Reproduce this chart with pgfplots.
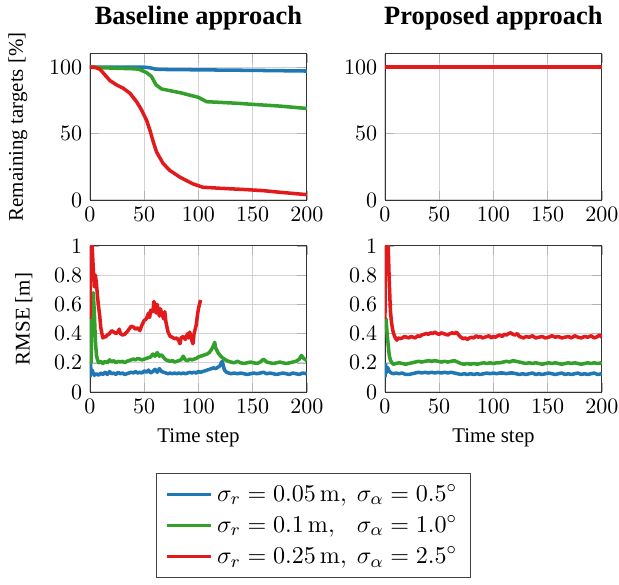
\documentclass[border=0pt]{standalone}
\usepackage[no-math]{fontspec}
\setmainfont{Liberation Serif}
\usepackage{pgfplots}
\pgfplotsset{compat=1.18}
\usepgfplotslibrary{groupplots}
\definecolor{cblue}{RGB}{31,120,180}
\definecolor{cgreen}{RGB}{51,160,44}
\definecolor{cred}{RGB}{227,26,28}
\begin{document}
\begin{tikzpicture}
\begin{groupplot}[
  group style={group size=2 by 2, horizontal sep=35.5pt, vertical sep=20.9pt},
  scale only axis, width=98.6pt, height=66.4pt,
  xmin=0, xmax=200, xtick={0,50,100,150,200},
  grid=major, major grid style={gray!35, line width=0.5pt},
  tick style={gray!60},
  axis line style={black!80},
  every axis plot/.append style={line width=1.6pt, line join=round},
  label style={font=\fontsize{9.5}{11}\selectfont},
  ylabel shift=3pt,
  title style={font=\large\bfseries, yshift=1.5pt},
  legend image code/.code={\draw[#1] (0pt,0pt) -- (20pt,0pt);},
]
% ---------- top left
\nextgroupplot[title={Baseline approach}, ymin=0, ymax=110, ytick={0,50,100}, ylabel={Remaining targets [\%]}]
\addplot[cblue] coordinates {(0,100)(50,100)(55,99.6)(60,98.6)(65,98.3)(100,98.0)(150,97.6)(200,97.1)};
\addplot[cgreen] coordinates {(0,100)(20,99.3)(40,98.8)(45,98.5)(52,96)(56.7,93)(61,86.6)(66,83.6)(83,80.8)(100,77.3)(107.5,74)(120,73.5)(138,72.7)(150,72)(175,70.7)(200,68.9)};
\addplot[cred] coordinates {(0,100)(4,100)(9.2,98.5)(13.8,94.2)(18.4,89.9)(24.6,86.6)(30.7,84.1)(36.9,80.3)(43,74)(47.6,67.7)(52.2,60)(55.3,52.5)(58.4,43.7)(61.4,36.1)(67.6,27.3)(73.7,22.2)(82.9,17.2)(89,14.6)(95,12.1)(104,9.6)(120,8.8)(144,7.8)(160,7)(175,5.8)(200,4)};
% ---------- top right
\nextgroupplot[title={Proposed approach}, ymin=0, ymax=110, ytick={0,50,100}]
\addplot[cblue] coordinates {(0,100)(200,100)};
\addplot[cgreen] coordinates {(0,100)(200,100)};
\addplot[cred] coordinates {(0,100)(200,100)};
% ---------- bottom left
\nextgroupplot[ymin=0, ymax=1, ytick={0,0.2,0.4,0.6,0.8,1}, ylabel={RMSE [m]}, xlabel={Time step},
  legend style={at={(1.03,-0.555)}, anchor=north, font=\fontsize{11}{13.5}\selectfont, draw=black!75, row sep=1pt, inner xsep=4pt, inner ysep=3pt},
  legend cell align=left]
\addplot[cblue] coordinates {(0,0.10)(0.5,0.20)(1,0.12)(2,0.15)(3,0.13)(4,0.115)(6,0.125)(8,0.115)(10,0.13)(12,0.12)(14,0.135)(16,0.12)(18,0.14)(20,0.125)(22,0.13)(24,0.12)(26,0.135)(28,0.125)(30,0.13)(32,0.12)(34,0.125)(36,0.13)(38,0.135)(40,0.13)(42,0.14)(44,0.13)(46,0.135)(48,0.13)(50,0.145)(52,0.135)(54,0.15)(56,0.13)(58,0.14)(60,0.155)(62,0.135)(64,0.16)(66,0.14)(68,0.135)(70,0.13)(72,0.125)(74,0.13)(76,0.125)(78,0.13)(80,0.125)(82,0.13)(84,0.125)(86,0.13)(88,0.125)(90,0.13)(92,0.135)(94,0.13)(96,0.135)(98,0.13)(100,0.14)(102,0.135)(104,0.14)(106,0.145)(108,0.15)(110,0.155)(112,0.16)(114,0.165)(116,0.16)(118,0.17)(120,0.18)(121,0.20)(122,0.21)(123,0.18)(124,0.15)(126,0.135)(128,0.13)(130,0.125)(133,0.13)(136,0.125)(139,0.13)(142,0.125)(145,0.12)(148,0.125)(151,0.13)(154,0.125)(157,0.13)(160,0.135)(163,0.125)(166,0.13)(169,0.125)(172,0.12)(175,0.125)(178,0.13)(181,0.125)(184,0.12)(187,0.13)(190,0.125)(193,0.12)(196,0.13)(200,0.125)};
\addlegendentry{$\sigma_r = 0.05\,\mathrm{m},\ \sigma_\alpha = 0.5^\circ$}
\addplot[cgreen] coordinates {(0,0.50)(0.5,0.30)(1,0.20)(1.5,0.45)(2,0.65)(3,0.68)(4,0.55)(5,0.35)(6,0.25)(7,0.22)(8,0.20)(10,0.21)(12,0.195)(14,0.21)(16,0.20)(18,0.22)(20,0.205)(22,0.215)(24,0.20)(26,0.21)(28,0.205)(30,0.21)(32,0.20)(34,0.21)(36,0.215)(38,0.22)(40,0.225)(42,0.22)(44,0.23)(46,0.225)(48,0.22)(50,0.225)(52,0.23)(54,0.235)(56,0.24)(58,0.26)(60,0.245)(62,0.27)(64,0.245)(66,0.255)(68,0.235)(70,0.22)(72,0.215)(74,0.21)(76,0.215)(78,0.205)(80,0.21)(82,0.215)(84,0.22)(86,0.245)(88,0.22)(90,0.215)(92,0.225)(94,0.22)(96,0.225)(98,0.23)(100,0.24)(102,0.245)(104,0.25)(106,0.255)(108,0.26)(110,0.27)(112,0.29)(114,0.32)(115,0.34)(116,0.30)(118,0.27)(120,0.25)(122,0.235)(124,0.225)(126,0.215)(128,0.21)(130,0.205)(133,0.20)(136,0.21)(139,0.20)(142,0.195)(145,0.20)(148,0.205)(151,0.20)(154,0.195)(157,0.205)(160,0.225)(163,0.205)(166,0.20)(169,0.195)(172,0.20)(175,0.205)(178,0.20)(181,0.195)(184,0.20)(187,0.205)(190,0.21)(193,0.225)(195,0.25)(197,0.23)(200,0.215)};
\addlegendentry{$\sigma_r = 0.1\,\mathrm{m},\ \phantom{5}\sigma_\alpha = 1.0^\circ$}
\addplot[cred] coordinates {(0,0.50)(0.5,1.05)(1,0.95)(1.5,1.05)(2,1.0)(3,0.85)(4,0.72)(5,0.80)(6,0.74)(7,0.65)(8,0.58)(9,0.52)(10,0.44)(11,0.40)(12,0.37)(13,0.38)(14,0.375)(16,0.39)(18,0.40)(20,0.42)(22,0.41)(24,0.40)(26,0.415)(27,0.43)(28,0.40)(30,0.39)(32,0.395)(34,0.41)(36,0.43)(38,0.45)(40,0.445)(42,0.43)(44,0.44)(46,0.42)(48,0.46)(50,0.49)(52,0.50)(54,0.54)(55,0.51)(56,0.56)(58,0.55)(59,0.62)(60,0.58)(61,0.54)(62,0.60)(63,0.56)(64,0.52)(65,0.57)(66,0.54)(68,0.50)(69,0.55)(70,0.48)(72,0.41)(74,0.38)(76,0.375)(78,0.365)(80,0.37)(82,0.35)(83,0.33)(84,0.37)(86,0.38)(88,0.36)(90,0.40)(91,0.37)(92,0.41)(94,0.35)(95,0.33)(96,0.40)(98,0.46)(99,0.52)(100,0.57)(102,0.63)};
\addlegendentry{$\sigma_r = 0.25\,\mathrm{m},\ \sigma_\alpha = 2.5^\circ$}
% ---------- bottom right
\nextgroupplot[ymin=0, ymax=1, ytick={0,0.2,0.4,0.6,0.8,1}, xlabel={Time step}]
\addplot[cblue] coordinates {(0,0.10)(0.5,0.19)(1,0.13)(2,0.17)(3,0.16)(4,0.14)(5,0.135)(6,0.13)(8,0.125)(10,0.13)(13,0.125)(16,0.13)(19,0.12)(22,0.12)(25,0.125)(28,0.13)(31,0.135)(34,0.13)(37,0.135)(40,0.13)(43,0.135)(46,0.13)(49,0.135)(52,0.13)(55,0.135)(58,0.13)(61,0.135)(64,0.13)(67,0.125)(70,0.12)(73,0.125)(76,0.12)(79,0.125)(82,0.12)(85,0.125)(88,0.12)(91,0.125)(94,0.13)(97,0.125)(100,0.13)(103,0.125)(106,0.13)(109,0.13)(112,0.125)(115,0.13)(118,0.13)(121,0.125)(124,0.12)(127,0.125)(130,0.12)(133,0.125)(136,0.13)(139,0.12)(142,0.125)(145,0.12)(148,0.125)(151,0.13)(154,0.125)(157,0.12)(160,0.125)(163,0.13)(166,0.12)(169,0.125)(172,0.12)(175,0.125)(178,0.13)(181,0.12)(184,0.125)(187,0.12)(190,0.125)(193,0.13)(196,0.12)(200,0.125)};
\addplot[cgreen] coordinates {(0,0.50)(1,0.50)(2,0.40)(3,0.32)(4,0.25)(5,0.22)(6,0.205)(7,0.195)(8,0.19)(10,0.195)(13,0.20)(16,0.195)(19,0.19)(22,0.195)(25,0.20)(28,0.205)(31,0.21)(34,0.205)(37,0.21)(40,0.215)(43,0.21)(46,0.215)(49,0.21)(52,0.205)(55,0.21)(58,0.205)(61,0.21)(64,0.215)(67,0.205)(70,0.195)(73,0.19)(76,0.195)(79,0.19)(82,0.195)(85,0.19)(88,0.195)(91,0.20)(94,0.195)(97,0.20)(100,0.195)(103,0.20)(106,0.20)(109,0.205)(112,0.21)(115,0.205)(118,0.215)(121,0.21)(124,0.205)(127,0.20)(130,0.195)(133,0.20)(136,0.195)(139,0.20)(142,0.195)(145,0.19)(148,0.195)(151,0.20)(154,0.195)(157,0.20)(160,0.195)(163,0.19)(166,0.195)(169,0.20)(172,0.195)(175,0.20)(178,0.195)(181,0.19)(184,0.195)(187,0.20)(190,0.195)(193,0.20)(196,0.195)(200,0.20)};
\addplot[cred] coordinates {(0,0.5)(0.5,1.05)(1,1.0)(2,1.05)(3,1.0)(4,0.75)(5,0.56)(6,0.48)(7,0.43)(8,0.40)(9,0.38)(10,0.365)(11,0.355)(12,0.37)(14,0.365)(16,0.37)(18,0.38)(20,0.375)(22,0.37)(24,0.38)(26,0.375)(28,0.37)(30,0.385)(32,0.38)(34,0.39)(36,0.395)(38,0.40)(40,0.395)(42,0.405)(44,0.40)(46,0.41)(48,0.40)(50,0.395)(52,0.405)(54,0.40)(56,0.395)(58,0.39)(60,0.40)(62,0.405)(64,0.40)(66,0.41)(68,0.39)(70,0.375)(72,0.365)(74,0.37)(76,0.36)(78,0.37)(80,0.375)(82,0.37)(84,0.385)(86,0.375)(88,0.38)(90,0.37)(92,0.375)(94,0.38)(96,0.385)(98,0.37)(100,0.38)(102,0.375)(104,0.385)(106,0.39)(108,0.38)(110,0.395)(112,0.39)(114,0.40)(116,0.405)(118,0.395)(120,0.39)(122,0.40)(124,0.38)(126,0.375)(128,0.37)(130,0.38)(133,0.375)(136,0.385)(139,0.37)(142,0.375)(145,0.38)(148,0.37)(151,0.375)(154,0.385)(157,0.375)(160,0.38)(163,0.37)(166,0.375)(169,0.38)(172,0.37)(175,0.385)(178,0.375)(181,0.37)(184,0.38)(187,0.375)(190,0.385)(193,0.37)(196,0.38)(198,0.39)(200,0.375)};
\end{groupplot}
\pgfresetboundingbox
\path ([xshift=-40.9pt,yshift=-87.3pt]group c1r2.south west) rectangle ([xshift=240.5pt,yshift=178.2pt]group c1r2.south west);
\end{tikzpicture}
\end{document}
